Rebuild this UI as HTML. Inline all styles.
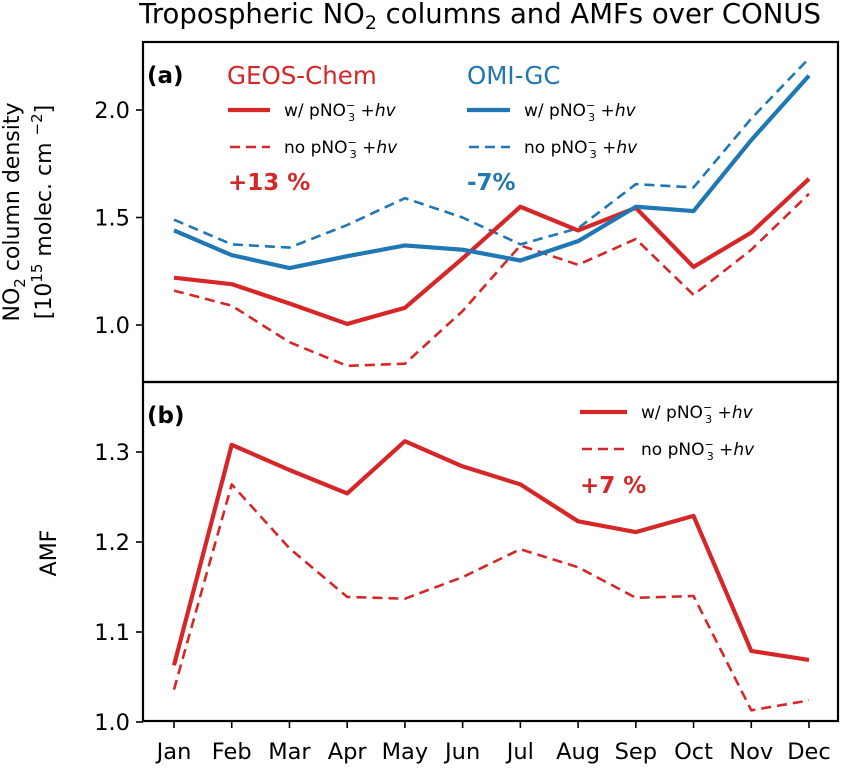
<!DOCTYPE html>
<html><head><meta charset="utf-8"><style>
html,body{margin:0;padding:0;background:#fff;}
svg{display:block;font-family:"DejaVu Sans","Liberation Sans",sans-serif;}
</style></head><body>
<svg id="c" width="843" height="769" xmlns="http://www.w3.org/2000/svg"></svg>
<script>
const months=["Jan","Feb","Mar","Apr","May","Jun","Jul","Aug","Sep","Oct","Nov","Dec"];
const gcSolid=[1.22,1.19,1.10,1.005,1.08,1.31,1.55,1.44,1.545,1.27,1.43,1.68];
const gcDash=[1.16,1.09,0.92,0.81,0.82,1.065,1.37,1.28,1.40,1.14,1.35,1.61];
const omiSolid=[1.44,1.325,1.265,1.32,1.37,1.35,1.30,1.39,1.55,1.53,1.86,2.16];
const omiDash=[1.49,1.375,1.36,1.465,1.59,1.50,1.375,1.45,1.655,1.64,1.96,2.24];
const amfSolid=[1.063,1.308,1.28,1.254,1.312,1.284,1.264,1.223,1.211,1.229,1.079,1.069];
const amfDash=[1.036,1.264,1.193,1.139,1.137,1.161,1.192,1.172,1.138,1.14,1.013,1.024];
const aTicks=[1.0,1.5,2.0];
const bTicks=[1.0,1.1,1.2,1.3];

const svg=document.getElementById('c');
const NS="http://www.w3.org/2000/svg";
const RED="#d62728",BLUE="#1f77b4";
function mk(tag,attrs,parent){const e=document.createElementNS(NS,tag);for(const k in attrs)e.setAttribute(k,attrs[k]);(parent||svg).appendChild(e);return e;}
function xS(i){return 174+i*(809-174)/11;}
function yA(v){return 325-(v-1)*215;}
function yB(v){return 722-(v-1)*900;}

let t=mk('text',{x:480,y:23,'text-anchor':'middle','font-size':27.5});
t.innerHTML='Tropospheric NO<tspan font-size="19" dy="6">2</tspan><tspan dy="-6"> columns and AMFs over CONUS</tspan>';



const defs=mk('defs',{});
const ca=mk('clipPath',{id:'ca'},defs);mk('rect',{x:143,y:42,width:695,height:340},ca);
const cb=mk('clipPath',{id:'cb'},defs);mk('rect',{x:143,y:382,width:695,height:339},cb);
const ga=mk('g',{'clip-path':'url(#ca)'});
const gb=mk('g',{'clip-path':'url(#cb)'});
function lineIn(g,arr,yf,color,w,dash,name){
  const p=mk('polyline',{points:arr.map((v,i)=>xS(i)+','+yf(v)).join(' '),fill:'none',stroke:color,'stroke-width':w,'stroke-dasharray':dash||'none','stroke-linejoin':'round'},g);
  
  
}
lineIn(ga,gcDash,yA,RED,2.6,'10 6','geos-chem-no-pno3-line');
lineIn(ga,omiDash,yA,BLUE,2.6,'10 6','omi-gc-no-pno3-line');
lineIn(ga,gcSolid,yA,RED,4.2,null,'geos-chem-with-pno3-line');
lineIn(ga,omiSolid,yA,BLUE,4.2,null,'omi-gc-with-pno3-line');
lineIn(gb,amfDash,yB,RED,2.6,'10 6','amf-no-pno3-line');
lineIn(gb,amfSolid,yB,RED,4.2,null,'amf-with-pno3-line');

let fa=mk('rect',{x:143,y:42,width:695,height:340,fill:'none',stroke:'#000','stroke-width':2.2});

let fb=mk('rect',{x:143,y:382,width:695,height:339,fill:'none',stroke:'#000','stroke-width':2.2});


aTicks.forEach(v=>{mk('line',{x1:136,x2:143,y1:yA(v),y2:yA(v),stroke:'#000','stroke-width':1.6});
  const l=mk('text',{x:130,y:yA(v)+8,'text-anchor':'end','font-size':22.5});l.textContent=v.toFixed(1);
  });
bTicks.forEach(v=>{mk('line',{x1:136,x2:143,y1:yB(v),y2:yB(v),stroke:'#000','stroke-width':1.6});
  const l=mk('text',{x:130,y:yB(v)+8,'text-anchor':'end','font-size':22.5});l.textContent=v.toFixed(1);
  });
months.forEach((m,i)=>{mk('line',{x1:xS(i),x2:xS(i),y1:721,y2:728,stroke:'#000','stroke-width':1.6});
  const l=mk('text',{x:xS(i),y:759,'text-anchor':'middle','font-size':22.5});l.textContent=m;
  });

let ya=mk('text',{transform:'translate(19,212) rotate(-90)','text-anchor':'middle','font-size':22});
ya.innerHTML='NO<tspan font-size="15" dy="6">2</tspan><tspan dy="-6"> column density</tspan>';

let ya2=mk('text',{transform:'translate(51,212) rotate(-90)','text-anchor':'middle','font-size':22});
ya2.innerHTML='[10<tspan font-size="15" dy="-9">15</tspan><tspan dy="9"> molec. cm </tspan><tspan font-size="15" dy="-9">−2</tspan><tspan dy="9">]</tspan>';

let yb=mk('text',{transform:'translate(56,553) rotate(-90)','text-anchor':'middle','font-size':22});
yb.textContent='AMF';

function txt(x,y,html,size,color,weight,name){const e=mk('text',{x:x,y:y,'font-size':size,fill:color||'#000','font-weight':weight||'normal'});e.innerHTML=html;
  return e;}
const lab='pNO<tspan font-size="11" dy="-7">−</tspan><tspan font-size="11" dx="-7" dy="12">3</tspan><tspan dy="-5"> +</tspan><tspan font-style="italic">hv</tspan>';
txt(147,83,'(a)',23,'#000','bold','panel-a-label');
txt(147,423,'(b)',23,'#000','bold','panel-b-label');
txt(227,84,'GEOS-Chem',24.5,RED,'normal','legend-title-geos-chem');
txt(467,84,'OMI-GC',24.5,BLUE,'normal','legend-title-omi-gc');
function legEntry(x1,x2,y,color,dash,w,label,name){
  const l=mk('line',{x1:x1,x2:x2,y1:y,y2:y,stroke:color,'stroke-width':w,'stroke-dasharray':dash||'none'});
  
  txt(x2+14,y+6,label,17,'#000','normal',name);
}
legEntry(228,270,110,RED,null,4.2,'w/ '+lab,'legend-gc-with');
legEntry(230,270,147,RED,'10 6',2.6,'no '+lab,'legend-gc-no');
legEntry(467,510,110,BLUE,null,4.2,'w/ '+lab,'legend-omi-with');
legEntry(469,510,147,BLUE,'10 6',2.6,'no '+lab,'legend-omi-no');
txt(228,190,'+13 %',23,RED,'bold','gc-change-annotation');
txt(467,190,'-7%',23,BLUE,'bold','omi-change-annotation');
legEntry(580,627,412,RED,null,4.2,'w/ '+lab,'legend-amf-with');
legEntry(582,627,449,RED,'10 6',2.6,'no '+lab,'legend-amf-no');
txt(580,493,'+7 %',23,RED,'bold','amf-change-annotation');
</script>
</body></html>
